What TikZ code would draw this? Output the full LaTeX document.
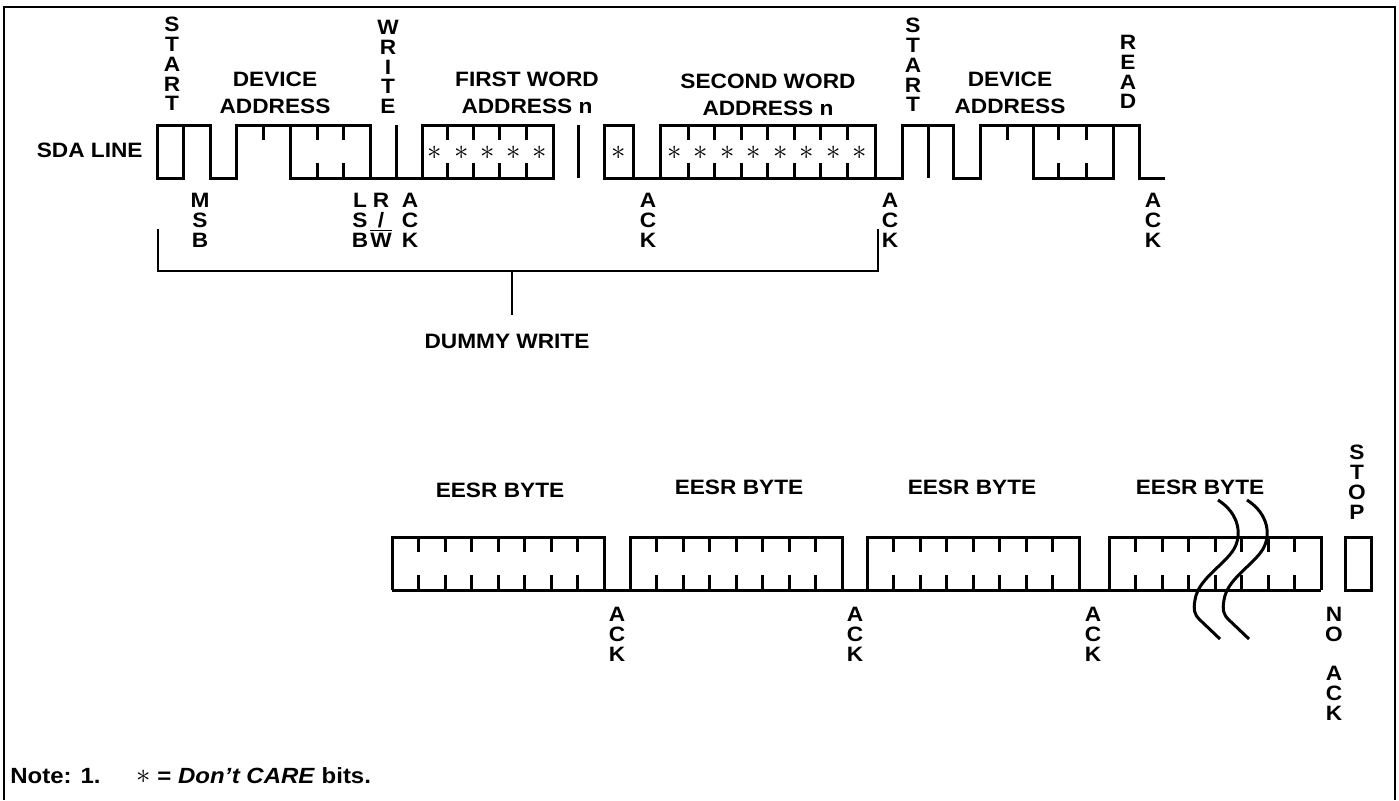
\documentclass[tikz,border=0pt]{standalone}
\usepackage{fontspec}
\setmainfont{Liberation Sans}[FakeStretch=1.09]
\begin{document}
\begin{tikzpicture}[x=0.5pt,y=-0.5pt,
    wave/.style={line width=1.5pt},
    lbl/.style={font=\fontsize{10.4}{13.5}\selectfont\bfseries,inner sep=0pt,align=center},
    vlbl/.style={font=\fontsize{10.4}{9.85}\selectfont\bfseries,inner sep=0pt,align=center,anchor=north},
    dc/.style={font=\fontsize{15}{15}\selectfont,inner sep=0pt},
    notefont/.style={font=\fontsize{11}{13}\selectfont\bfseries,inner sep=0pt}]
  \useasboundingbox (0,0) rectangle (1399,800);
  \draw[line width=1.4pt] (4,800)--(4,7)--(1395,7)--(1395,800);

  % random read, first row
  \node (sda) at (143,150) [lbl,left] {SDA LINE};
  \draw[wave] (183,125)--(183,178)--(157,178)--(157,125)--(210,125)--(210,178)--(236,178)--(236,125)--(370,125)--(370,178);
  \draw[wave] (263,125)--(263,140);
  \draw[wave] (290,125)--(290,178)--(553,178)--(553,125)--(422,125)--(422,178);
  \draw[wave] (396,178)--(396,125);
  \draw[wave] (578,125)--(578,178);
  \draw[wave] (633,178)--(633,125)--(604,125)--(604,178)--(902,178)--(902,125)--(953,125)--(953,178)--(980,178)--(980,125)--(1139,125)--(1139,178)--(1165,178);
  \draw[wave] (660,178)--(660,125)--(875,125)--(875,178);
  \draw[wave] (928,125)--(928,178);
  \draw[wave] (1007,125)--(1007,140);
  \draw[wave] (1033,125)--(1033,178)--(1113,178)--(1113,125);
  \foreach \x in {317,343,447,473,499,526,688,714,741,767,794,820,847,1058,1086}
    \draw[wave] (\x,125)--++(0,15) (\x,178)--++(0,-15);
  \foreach \i in {0,...,4}
    \node (fa\i) at (435+\i*26.2,153) [dc] {$\ast$};
  \node (fb) at (618.5,153) [dc] {$\ast$};
  \foreach \i in {0,...,7}
    \node (sa\i) at (674.5+\i*26.5,153) [dc] {$\ast$};

  \node (start1) at (172,17) [vlbl] {S\\T\\A\\R\\T};
  \node (write) at (388,20) [vlbl] {W\\R\\I\\T\\E};
  \node (dev1) at (275,93) [lbl] {DEVICE\\ADDRESS};
  \node (word1) at (527,93) [lbl] {FIRST WORD\\ADDRESS n};
  \node (word2) at (768,95) [lbl] {SECOND WORD\\ADDRESS n};
  \node (start2) at (913,18) [vlbl] {S\\T\\A\\R\\T};
  \node (dev2) at (1010,93) [lbl] {DEVICE\\ADDRESS};
  \node (read) at (1128,35) [vlbl] {R\\E\\A\\D};
  \node (msb) at (200,193) [vlbl] {M\\S\\B};
  \node (lsb) at (360,193) [vlbl] {L\\S\\B};
  \node (rw) at (381,193) [vlbl] {R\\/\\$\overline{\hbox{W}}$};
  \foreach \x/\n in {410/1,648/2,890/3,1153/4}
    \node (ack\n) at (\x,193) [vlbl] {A\\C\\K};

  % dummy write bracket
  \coordinate (bl) at (158,229);
  \coordinate (br) at (878,229);
  \coordinate (stem) at (512,315);
  \draw[line width=1.2pt] (bl)--(158,271)--(878,271)--(br);
  \draw[line width=1.2pt] (512,271)--(stem);
  \node (dummy) at (507,341) [lbl] {DUMMY WRITE};

  % sequential read, second row
  \foreach \b in {392,630,867,1109} {
    \draw[wave] (\b,590)--(\b,537)--(\b+212,537)--(\b+212,590);
    \foreach \i in {1,...,7}
      \draw[wave] (\b+\i*26.5,537)--++(0,15) (\b+\i*26.5,590)--++(0,-15);
  }
  \draw[wave] (392,590)--(1321,590);
  \draw[wave] (1345,537) rectangle (1371,590);
  \foreach \s in {0,29}
    \draw[wave,shift={(\s,2)}] (1218,498) .. controls (1240,512) and (1243,535) .. (1232,550)
      .. controls (1220,566) and (1198,578) .. (1195,598)
      .. controls (1193,608) and (1195,613) .. (1199,617) -- (1220,637);

  \foreach \x/\y/\n in {500/490/1,739/487/2,972/487/3,1200/487/4}
    \node (byte\n) at (\x,\y) [lbl] {EESR BYTE};
  \foreach \x/\n in {617/5,855/6,1093/7}
    \node (ack\n) at (\x,607) [vlbl] {A\\C\\K};
  \node (noack) at (1334,607) [vlbl] {N\\O\\\mbox{}\\A\\C\\K};
  \node (stop) at (1357,445) [vlbl] {S\\T\\O\\P};

  % note
  \node (note) at (10,776) [notefont,right] {Note: 1.};
  \node (care) at (136,776) [notefont,right] {{\fontsize{15}{15}\selectfont$\ast$} = \textit{Don’t CARE} bits.};
\end{tikzpicture}
\end{document}
